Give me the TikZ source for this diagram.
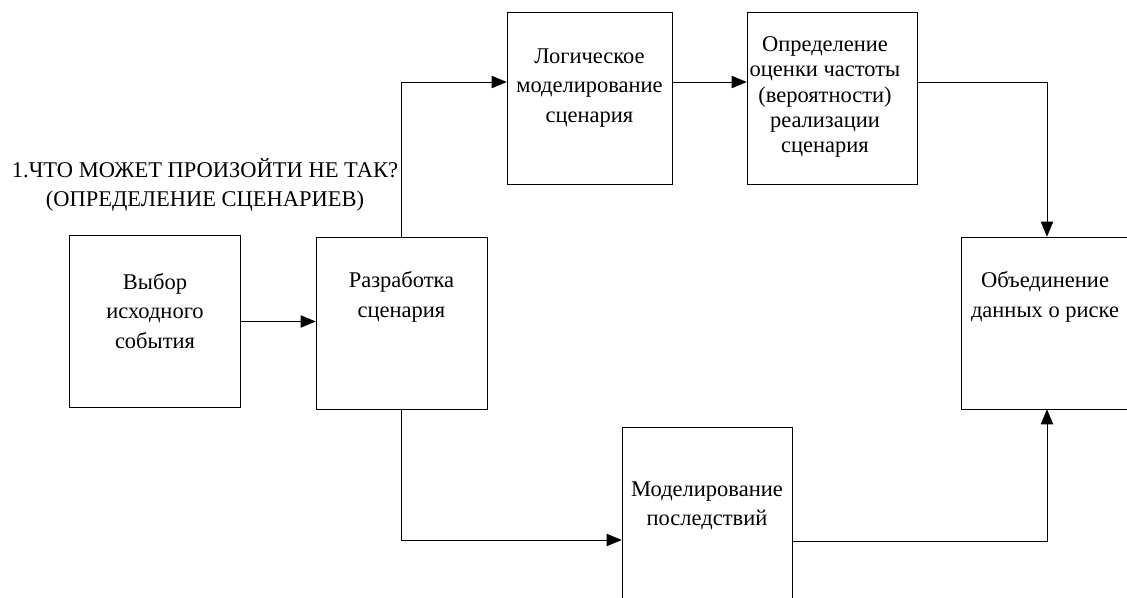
\documentclass[tikz,border=0pt]{standalone}
\usepackage{fontspec}
\setmainfont{Liberation Serif}
\usetikzlibrary{arrows.meta, positioning, calc}
\tikzset{
    x=0.02cm, y=-0.02cm, line width=1.2pt,
    block/.style ={rectangle, draw, minimum width=3.42cm, minimum height=3.44cm, inner sep=0pt},
    txt/.style = {align=center, inner sep=0pt, font=\fontsize{12.8}{16.8}\selectfont},
    arr/.style = {-{Triangle[length=8.5pt,width=7pt]}}
}
\begin{document}
\begin{tikzpicture}
  \clip (0,0) rectangle (1127,598);

  \node[txt] (q1) at (205,185) {1.ЧТО МОЖЕТ ПРОИЗОЙТИ НЕ ТАК?\\(ОПРЕДЕЛЕНИЕ СЦЕНАРИЕВ)};

  \node[block] (b1) at (155,321.5) {};
  \node[block] (b2) at (401.5,323) {};
  \node[block, minimum width=3.3cm] (b3) at (589.5,98) {};
  \node[block, minimum width=3.4cm] (b4) at (832,98) {};
  \node[block] (b5) at (1047,323) {};
  \node[block, minimum width=3.4cm] (b6) at (707,513) {};

  \node[txt] (t1) at (155,311) {Выбор\\исходного\\события};
  \node[txt] (t2) at (401.5,297) {Разработка\\сценария};
  \node[txt] (t3) at (589.5,88) {Логическое\\моделирование\\сценария};
  \node[txt, font=\fontsize{12.8}{14.4}\selectfont] (t4) at (825,97) {Определение\\оценки частоты\\(вероятности)\\реализации\\сценария};
  \node[txt] (t5) at (1045,297) {Объединение\\данных о риске};
  \node[txt] (t6) at (707,506) {Моделирование\\последствий};

  \draw[arr] (b1.east) -- (b1.east -| b2.west);
  \draw[arr] (b2.north) |- ([yshift=0.32cm]b3.west);
  \draw[arr] ([yshift=0.32cm]b3.east) -- ([yshift=0.32cm]b4.west);
  \draw[arr] ([yshift=0.32cm]b4.east) -| (b5.north);
  \draw[arr] (b2.south) |- ([yshift=-0.54cm]b6.west);
  \draw[arr] ([yshift=-0.56cm]b6.east) -| (b5.south);
\end{tikzpicture}
\end{document}
